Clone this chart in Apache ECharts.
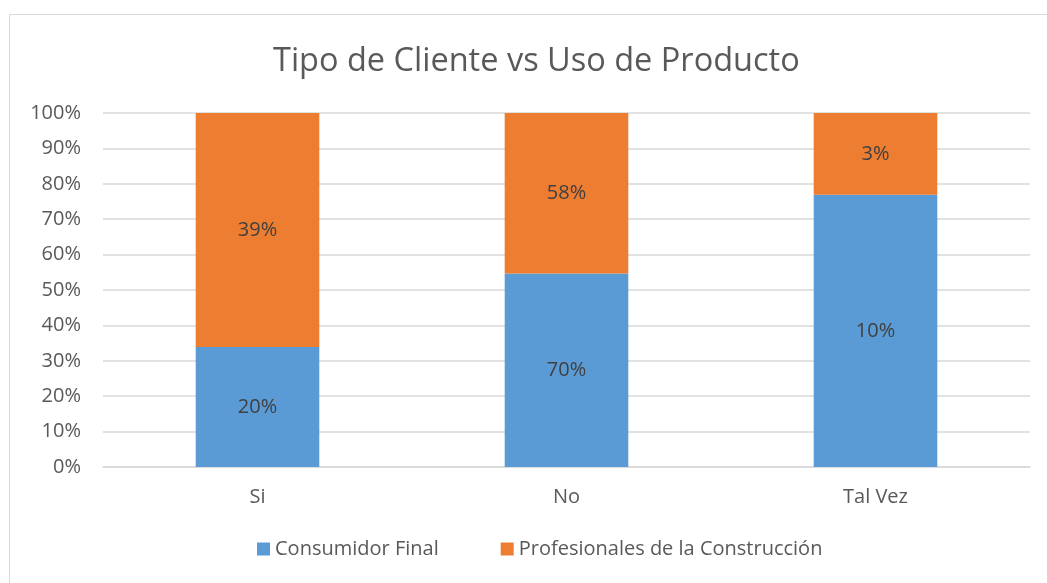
<!DOCTYPE html>
<html>
<head>
<meta charset="utf-8">
<script src="https://cdn.jsdelivr.net/npm/echarts@6/dist/echarts.min.js"></script>
<style>
  html, body { margin: 0; padding: 0; background: #fff; }
  #main { width: 1047px; height: 583px; }
</style>
</head>
<body>
<div id="main"></div>
<script>
// datos del gráfico
var categorias = ['Si', 'No', 'Tal Vez'];
var consumidorFinal = [20, 70, 10];
var profesionales = [39, 58, 3];
var ticksY = ['0%', '10%', '20%', '30%', '40%', '50%', '60%', '70%', '80%', '90%', '100%'];

var fuente = '"Open Sans", "Liberation Sans", sans-serif';
var gris = '#595959';

// apilado al 100%: cada barra se normaliza por su total
function share(serie, i) {
    var total = consumidorFinal[i] + profesionales[i];
    return { value: serie[i] / total * 100, raw: serie[i] };
}
var dataCF = categorias.map(function (c, i) { return share(consumidorFinal, i); });
var dataPC = categorias.map(function (c, i) { return share(profesionales, i); });

var myChart = echarts.init(document.getElementById('main'));

var option = {
    animation: false,
    textStyle: { fontFamily: fuente },
    graphic: [{
        type: 'rect',
        shape: { x: 9.5, y: 14.5, width: 1100, height: 700 },
        style: { fill: 'none', stroke: '#d9d9d9', lineWidth: 1 },
        silent: true
    }],
    title: {
        text: 'Tipo de Cliente vs Uso de Producto',
        left: 268,
        top: 40,
        textStyle: { fontFamily: fuente, fontSize: 32.5, fontWeight: 'normal', color: gris }
    },
    legend: {
        bottom: 19,
        left: 252,
        itemWidth: 13,
        itemHeight: 13,
        itemGap: 62,
        icon: 'rect',
        textStyle: { fontFamily: fuente, fontSize: 20, color: gris },
        data: ['Consumidor Final', 'Profesionales de la Construcción']
    },
    grid: { left: 103, right: 17, top: 113, bottom: 116 },
    xAxis: {
        type: 'category',
        data: categorias,
        axisLine: { lineStyle: { color: '#d9d9d9', width: 1.5 } },
        axisTick: { show: false },
        axisLabel: { fontFamily: fuente, fontSize: 20, color: gris, margin: 20 }
    },
    yAxis: {
        type: 'value',
        min: 0,
        max: 100,
        interval: 10,
        axisLine: { show: false },
        axisTick: { show: false },
        splitLine: { lineStyle: { color: '#d9d9d9', width: 1.5 } },
        axisLabel: {
            fontFamily: fuente, fontSize: 20, color: gris, margin: 22,
            formatter: function (v) { return ticksY[Math.round(v / 10)]; }
        }
    },
    series: [
        {
            name: 'Consumidor Final',
            type: 'bar',
            stack: 'total',
            barWidth: '40%',
            itemStyle: { color: '#5b9bd5' },
            label: {
                show: true, position: 'inside', fontFamily: fuente, fontSize: 20, color: '#404040',
                formatter: function (p) { return p.data.raw + '%'; }
            },
            data: dataCF
        },
        {
            name: 'Profesionales de la Construcción',
            type: 'bar',
            stack: 'total',
            barWidth: '40%',
            itemStyle: { color: '#ed7d31' },
            label: {
                show: true, position: 'inside', fontFamily: fuente, fontSize: 20, color: '#404040',
                formatter: function (p) { return p.data.raw + '%'; }
            },
            data: dataPC
        }
    ]
};

myChart.setOption(option);
window.onresize = myChart.resize;
</script>
</body>
</html>
